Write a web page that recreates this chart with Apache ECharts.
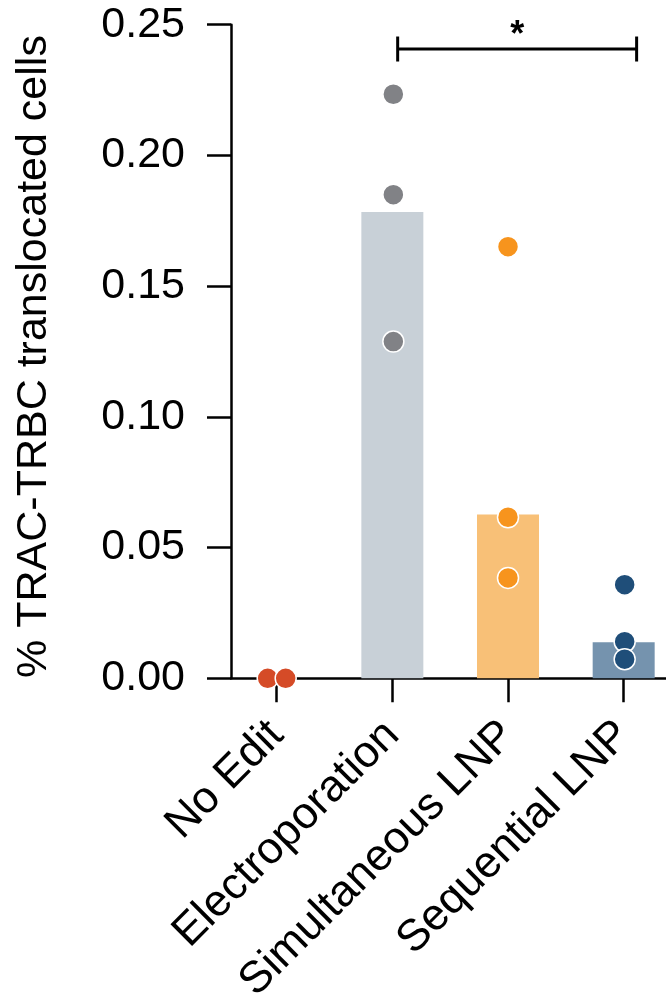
<!DOCTYPE html>
<html>
<head>
<meta charset="utf-8">
<script src="https://cdn.jsdelivr.net/npm/echarts@6/dist/echarts.min.js"></script>
<style>
html,body{margin:0;padding:0;background:#fff;}
#chart{width:666px;height:993px;}
</style>
</head>
<body>
<div id="chart"></div>
<script>
// ---- data ----
const categories = ['No Edit', 'Electroporation', 'Simultaneous LNP', 'Sequential LNP'];
const barValues = [0, 0.1784, 0.0627, 0.0138];
const noEditPoints = [0, 0];
const electroporationPoints = [0.2234, 0.1850, 0.1288];
const simultaneousPoints = [0.1651, 0.0616, 0.0384];
const sequentialPoints = [0.0358, 0.0140, 0.0073];
const yTickValues = [0, 0.05, 0.10, 0.15, 0.20, 0.25];
const yAxisTitle = '% TRAC-TRBC translocated cells';
const sigPair = [1, 3];
const sigLevel = 0.2407;
const sigLabel = '*';

// ---- styles ----
const FONT = '"Liberation Sans", Arial, Helvetica, sans-serif';
const barColors = ['#c8d0d7', '#c8d0d7', '#f8c077', '#7593ae'];
const dotColors = ['#d54b27', '#818286', '#f7941d', '#1f4e79'];
const jitterPx = [[-9, 9], [1, 1, 1], [0, 0, 0], [1, 1, 1]];
const bracketShift = [0.046, 0.112]; // annotation offset in category units
const groups = [noEditPoints, electroporationPoints, simultaneousPoints, sequentialPoints];

const chart = echarts.init(document.getElementById('chart'), null, {renderer: 'canvas'});

const scatterSeries = groups.map((vals, gi) => ({
  type: 'scatter',
  z: 5,
  symbolSize: 21,
  data: vals.map((v, i) => ({
    value: [gi, v],
    symbolOffset: [jitterPx[gi][i], 0]
  })),
  itemStyle: {color: dotColors[gi], borderColor: '#ffffff', borderWidth: 1.5, opacity: 1},
  emphasis: {disabled: true},
  clip: false
}));

const option = {
  animation: false,
  backgroundColor: '#ffffff',
  grid: {left: 231, right: 0, top: 24.7, bottom: 314.7, containLabel: false, outerBoundsMode: 'none'},
  xAxis: {
    type: 'value',
    min: -0.395,
    max: 3.366,
    axisLine: {onZero: false, lineStyle: {color: '#000', width: 2.5}},
    axisTick: {show: true, length: 24, lineStyle: {color: '#000', width: 2.5}, customValues: categories.map((c, i) => i)},
    axisLabel: {
      customValues: categories.map((c, i) => i),
      formatter: v => categories[Math.round(v)],
      rotate: 45,
      margin: 50,
      color: '#000',
      fontSize: 44.5,
      fontFamily: FONT
    },
    splitLine: {show: false}
  },
  yAxis: {
    type: 'value',
    min: 0,
    max: 0.25,
    interval: 0.05,
    name: yAxisTitle,
    nameLocation: 'middle',
    nameGap: 175,
    nameTextStyle: {color: '#000', fontSize: 43, fontFamily: FONT, padding: [0, 10, 0, 0]},
    axisLine: {show: true, onZero: false, lineStyle: {color: '#000', width: 2.5}},
    axisTick: {show: true, length: 24, lineStyle: {color: '#000', width: 2.5}},
    axisLabel: {
      formatter: v => v.toFixed(2),
      margin: 46,
      color: '#000',
      fontSize: 43,
      fontFamily: FONT
    },
    splitLine: {show: false}
  },
  series: [
    {
      type: 'bar',
      barWidth: 62,
      z: 2,
      data: barValues.map((v, i) => ({value: [i, v], itemStyle: {color: barColors[i]}})),
      emphasis: {disabled: true}
    },
    ...scatterSeries,
    {
      type: 'custom',
      z: 10,
      clip: false,
      data: [[sigPair[0], sigPair[1], sigLevel]],
      renderItem: function (params, api) {
        const p1 = api.coord([api.value(0) + bracketShift[0], api.value(2)]);
        const p2 = api.coord([api.value(1) + bracketShift[1], api.value(2)]);
        const st = {stroke: '#000', lineWidth: 3};
        return {
          type: 'group',
          children: [
            {type: 'line', shape: {x1: p1[0], y1: p1[1], x2: p2[0], y2: p2[1]}, style: st},
            {type: 'line', shape: {x1: p1[0], y1: p1[1] - 12.5, x2: p1[0], y2: p1[1] + 12.5}, style: st},
            {type: 'line', shape: {x1: p2[0], y1: p2[1] - 12.5, x2: p2[0], y2: p2[1] + 12.5}, style: st},
            {type: 'text', x: (p1[0] + p2[0]) / 2, y: p1[1] - 12.5,
              style: {text: sigLabel, fill: '#000', font: 'bold 36px ' + FONT, textAlign: 'center', textVerticalAlign: 'middle'}}
          ]
        };
      }
    }
  ]
};
chart.setOption(option);
</script>
</body>
</html>
